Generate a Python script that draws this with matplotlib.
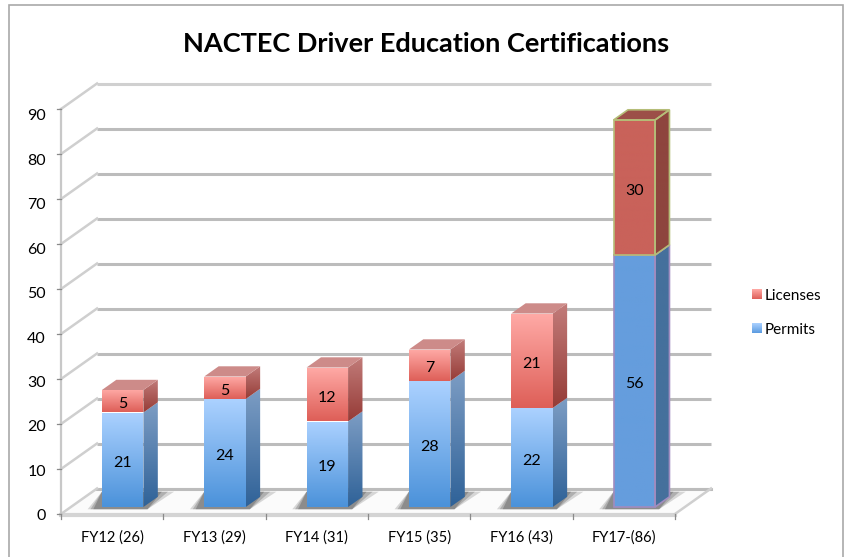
import numpy as np
import matplotlib
matplotlib.use("Agg")
import matplotlib.pyplot as plt
from matplotlib.patches import Polygon, Rectangle
from matplotlib.colors import to_rgb

categories = ["FY12 (26)", "FY13 (29)", "FY14 (31)", "FY15 (35)", "FY16 (43)", "FY17-(86)"]
permits = [21, 24, 19, 28, 22, 56]
licenses = [5, 5, 12, 7, 21, 30]
y_ticks = [0, 10, 20, 30, 40, 50, 60, 70, 80, 90]

plt.rcParams["font.family"] = ["Lato", "DejaVu Sans"]

W, H = 848, 557
# pixels per category / per unit on the front plane of the fake 3d box
CAT_PX, VAL_PX = 102.33, 4.5
LEFT_PX, ZERO_PX = 61, 514

fig = plt.figure(figsize=(W / 100, H / 100), dpi=100)
ax = fig.add_axes([0, 0, 1, 1])
ax.axis("off")

# depth of the box, in data units
DX, DY = 36 / CAT_PX, 25.5 / VAL_PX
BAR_W = 41.5 / CAT_PX
x0, x1 = -0.5, 5.5


def px(x, y):
    return -0.5 + (x - LEFT_PX) / CAT_PX, (ZERO_PX - y) / VAL_PX


def gradient(pts, top, bottom, z):
    pts = np.array(pts)
    rows = np.linspace(0, 1, 64)[:, None, None]
    img = np.array(to_rgb(top))[None, None, :] * (1 - rows) + np.array(to_rgb(bottom))[None, None, :] * rows
    im = ax.imshow(img, extent=(pts[:, 0].min(), pts[:, 0].max(), pts[:, 1].min(), pts[:, 1].max()),
                   aspect="auto", zorder=z, interpolation="bilinear")
    im.set_clip_path(Polygon(pts, closed=True, transform=ax.transData))


def box(x, y, h, front, side, topc, z, edge=None):
    # x = left of the front face, y = base, h = height
    dx, dy = 0.4 * DX, 0.4 * DY
    f = [(x, y), (x + BAR_W, y), (x + BAR_W, y + h), (x, y + h)]
    s = [(x + BAR_W, y), (x + BAR_W + dx, y + dy), (x + BAR_W + dx, y + h + dy), (x + BAR_W, y + h)]
    t = [(x, y + h), (x + BAR_W, y + h), (x + BAR_W + dx, y + h + dy), (x + dx, y + h + dy)]
    gradient(f, front[0], front[1], z)
    gradient(s, side[0], side[1], z)
    if topc is not None:
        ax.add_patch(Polygon(t, closed=True, fc=topc, ec="none", zorder=z))
    if edge:
        for p in (f, s, t):
            ax.add_patch(Polygon(p, closed=True, fc="none", ec=edge, lw=1.2, zorder=z + 0.1))


grid_c = "#bcbcbc"
# back wall gridlines and the oblique ones on the left wall
for v in y_ticks:
    c = "#d0d0d0" if v == y_ticks[-1] else grid_c
    ax.plot([x0 + DX, x1 + DX], [v + DY, v + DY], color=c, lw=2.2, zorder=1, solid_capstyle="butt")
    if v > 0:
        ax.plot([x0, x0 + DX], [v, v + DY], color="#cfcfcf", lw=1.8, zorder=1)
    ax.plot([x0 - 0.04, x0], [v, v], color="#8a8a8a", lw=0.9, zorder=2)
    # labels sit a little tighter than the ticks
    ax.text(px(46, 0)[0], v * 0.988 - 0.2, str(v), ha="right", va="center_baseline",
            fontsize=11.5, color="black", zorder=5)

# floor
ax.add_patch(Polygon([(x0, 0), (x1, 0), (x1 + DX, DY), (x0 + DX, DY)], closed=True,
                     fc="#fbfbfb", ec="none", zorder=1.5))
ax.plot([x0 + DX, x1 + DX], [DY, DY], color=grid_c, lw=2.2, zorder=1.6)
ax.plot([x0, x1], [-0.2, -0.2], color="#d4d4d4", lw=3, zorder=1.6)
ax.plot([x0, x0 + DX], [0, DY], color="#cfcfcf", lw=1.8, zorder=1.6)
ax.plot([x1, x1 + DX], [0, DY], color="#cfcfcf", lw=1.8, zorder=1.6)
ax.plot([x0, x0], [0, y_ticks[-1]], color="#c8c8c8", lw=1.6, zorder=1.6)
for i in range(len(categories) + 1):
    ax.plot([x0 + i, x0 + i], [0, -1.1], color="#8a8a8a", lw=0.9, zorder=2)

for i, label in enumerate(categories):
    ax.text(i, px(0, 536)[1], label, ha="center", va="center_baseline", fontsize=10.5, color="black")

# bars
base = px(0, 507)[1]
LABEL_DROP = 0.35
for i, (p, l) in enumerate(zip(permits, licenses)):
    bx = i + 10.5 / CAT_PX - BAR_W / 2
    z = 3 + i
    # soft shadow on the floor
    for grow, a in zip((1.0, 0.8, 0.6), (0.22, 0.3, 0.38)):
        ax.add_patch(Polygon([(bx - 0.14 * grow, base - 0.5), (bx + BAR_W + 0.04, base - 0.5),
                              (bx + BAR_W + 0.3 * grow, base + 3.4), (bx, base + 3.4)],
                             closed=True, fc="#555555", ec="none", alpha=a, zorder=2.5))
    if i == len(categories) - 1:
        box(bx, base, p, ("#659ddd", "#659ddd"), ("#45709c", "#45709c"), None, z, edge="#a08cc0")
        box(bx, base + p, l, ("#c9625a", "#c9625a"), ("#8e453e", "#8e453e"), "#9c4f48", z + 0.2, edge="#b5bd78")
    else:
        box(bx, base, p, ("#abd1ff", "#4b92da"), ("#7d9dc4", "#2f6298"), None, z)
        box(bx, base + p, l, ("#ffaaa6", "#de5f58"), ("#c27c7a", "#963c37"), "#cd8b89", z + 0.2)
    ax.text(bx + BAR_W / 2, base + p / 2 - LABEL_DROP, str(p), ha="center", va="center_baseline",
            fontsize=11.5, zorder=z + 0.5)
    ax.text(bx + BAR_W / 2, base + p + l / 2 - LABEL_DROP, str(l), ha="center", va="center_baseline",
            fontsize=11.5, zorder=z + 0.5)

# legend
for name, yc, cols in [("Licenses", 294, ("#ffaaa6", "#de5f58")), ("Permits", 328, ("#abd1ff", "#5b9be0"))]:
    xa, ya = px(752, yc - 5)
    xb, yb = px(762, yc + 5)
    gradient([(xa, ya), (xb, ya), (xb, yb), (xa, yb)], cols[0], cols[1], 6)
    ax.text(*px(765, yc), name, ha="left", va="center_baseline", fontsize=11, color="black")

ax.set_xlim(-0.5 - LEFT_PX / CAT_PX, -0.5 + (W - LEFT_PX) / CAT_PX)
ax.set_ylim(-(H - ZERO_PX) / VAL_PX, ZERO_PX / VAL_PX)

ax.text(*px(426, 41.5), "NACTEC Driver Education Certifications", ha="center", va="center_baseline",
        fontsize=19.5, fontweight="bold", color="black")

# chart frame
fig.patches.append(Rectangle((8.5 / W, -0.05), (843 - 8.5) / W, 1.05 - 5 / H, transform=fig.transFigure,
                             fill=False, ec="#a9a9a9", lw=1.2))

fig.savefig("out.png", dpi=100)
plt.close()
